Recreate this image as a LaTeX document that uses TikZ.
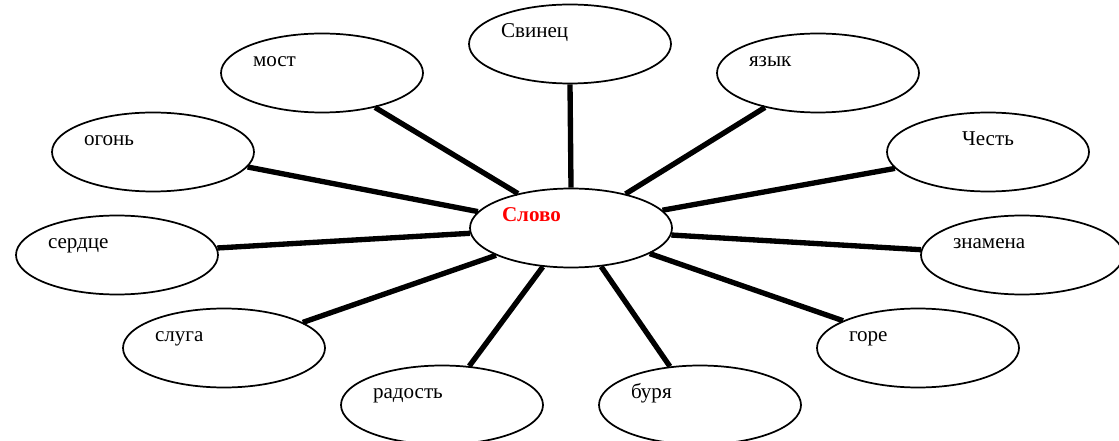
\documentclass[tikz,border=0pt]{standalone}
\usepackage{fontspec}
\setmainfont{Liberation Serif}
\usepackage{tikz}
\usetikzlibrary{shapes.geometric}

\begin{document}
\begin{tikzpicture}[x=0.75pt, y=-0.75pt,
  word/.style={draw=black, line width=1.3pt, ellipse, inner sep=0pt, minimum width=151.5pt, minimum height=59.25pt, text width=103.5pt, align=left, text height=11pt, text depth=21pt, font=\fontsize{15.8}{18}\selectfont},
  spoke/.style={draw=black, line width=4pt, shorten >=0pt, shorten <=0pt}]
\useasboundingbox (0,0) rectangle (1119,441);
\node[word] (slovo) at (571,228) {\textcolor{red}{\textbf{Слово}}};
\node[word] (svinets) at (570,44) {Свинец};
\node[word] (most) at (322,73) {мост};
\node[word] (yazyk) at (818,73) {язык};
\node[word] (ogon) at (153,152) {огонь};
\node[word, align=center] (chest) at (988,152) {Честь};
\node[word] (serdtse) at (117,255) {сердце};
\node[word] (znamena) at (1022,255) {знамена};
\node[word] (sluga) at (224,348) {слуга};
\node[word] (gore) at (918,348) {горе};
\node[word] (radost) at (442,405) {радость};
\node[word] (burya) at (700,405) {буря};
\draw[spoke] (slovo.90) -- (svinets.-90);
\draw[spoke] (slovo.147.8) -- (most.-33);
\draw[spoke] (slovo.32) -- (yazyk.-147.5);
\draw[spoke] (slovo.170) -- (ogon.-9.7);
\draw[spoke] (slovo.11.1) -- (chest.-170.2);
\draw[spoke] (slovo.-177) -- (serdtse.4);
\draw[spoke] (slovo.-4) -- (znamena.177);
\draw[spoke] (slovo.-160.4) -- (sluga.18.4);
\draw[spoke] (slovo.-18.2) -- (gore.160.3);
\draw[spoke] (slovo.-126.4) -- (radost.55);
\draw[spoke] (slovo.-52.7) -- (burya.128.7);
\end{tikzpicture}
\end{document}
